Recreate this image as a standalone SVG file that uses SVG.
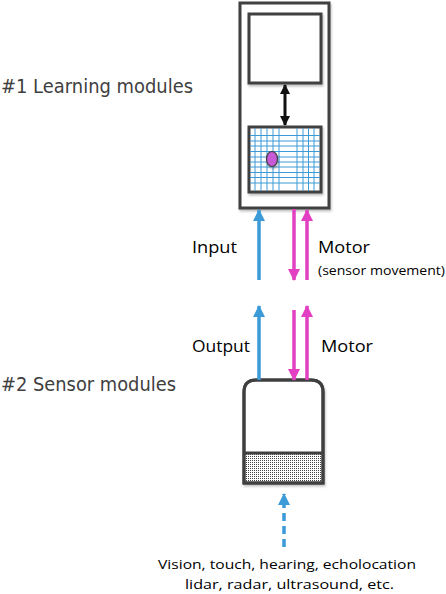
<svg xmlns="http://www.w3.org/2000/svg" width="446" height="594" viewBox="0 0 446 594">
<defs>
<style>
.box{fill:#fff;stroke:#3f3f3f;stroke-width:3}
.blue{stroke:#3d9ad8;stroke-width:3.5;fill:none}
.mag{stroke:#e23fc2;stroke-width:3.5;fill:none}
.grid{stroke:#3d9ad8;stroke-width:1}
.head{font-family:"DejaVu Sans",Verdana,sans-serif;font-size:19px;fill:#404040}
.lab{font-family:"Open Sans",sans-serif;font-size:17px;fill:#000}
.small{font-family:"Open Sans",sans-serif;font-size:13px;fill:#000}
</style>
<marker id="ab" markerUnits="userSpaceOnUse" markerWidth="14" markerHeight="12" refX="11" refY="6" orient="auto"><path d="M0,0 L12,6 L0,12 Z" fill="#3d9ad8"/></marker>
<marker id="am" markerUnits="userSpaceOnUse" markerWidth="14" markerHeight="12" refX="11" refY="6" orient="auto"><path d="M0,0 L12,6 L0,12 Z" fill="#e23fc2"/></marker>
<marker id="ak" markerUnits="userSpaceOnUse" markerWidth="12" markerHeight="10" refX="9" refY="5" orient="auto-start-reverse"><path d="M0,0 L10,5 L0,10 Z" fill="#111"/></marker>
<pattern id="dots" patternUnits="userSpaceOnUse" width="2" height="2"><rect x="0" y="0" width="1" height="1" fill="#444"/></pattern>
<filter id="sh" x="-10%" y="-10%" width="130%" height="130%"><feDropShadow dx="1" dy="2" stdDeviation="1" flood-color="#000" flood-opacity="0.25"/></filter>
</defs>

<g id="learning-module">
<rect class="box" x="240" y="3" width="89" height="205" filter="url(#sh)"/>
<rect class="box" x="249" y="14" width="72" height="69" filter="url(#sh)"/>
<rect class="box" x="249" y="127" width="72" height="65" filter="url(#sh)"/>
<g class="grid">
<line x1="255" y1="128" x2="255" y2="191"/><line x1="261" y1="128" x2="261" y2="191"/><line x1="267" y1="128" x2="267" y2="191"/><line x1="273" y1="128" x2="273" y2="191"/><line x1="279" y1="128" x2="279" y2="191"/>
<line x1="297" y1="128" x2="297" y2="191"/><line x1="303" y1="128" x2="303" y2="191"/><line x1="308.5" y1="128" x2="308.5" y2="191"/><line x1="314" y1="128" x2="314" y2="191"/>
<line x1="250" y1="135.5" x2="320" y2="135.5"/><line x1="250" y1="141" x2="320" y2="141"/><line x1="250" y1="146" x2="320" y2="146"/><line x1="250" y1="151.5" x2="320" y2="151.5"/><line x1="250" y1="157" x2="320" y2="157"/><line x1="250" y1="162" x2="320" y2="162"/><line x1="250" y1="167" x2="320" y2="167"/><line x1="250" y1="172.5" x2="320" y2="172.5"/><line x1="250" y1="177.5" x2="320" y2="177.5"/><line x1="250" y1="183" x2="320" y2="183"/>
</g>
<ellipse cx="272" cy="159" rx="5.5" ry="7.5" fill="#c85ad8" stroke="#3f3f3f" stroke-width="1.2" filter="url(#sh)"/>
</g>

<g id="sensor-module">
<path class="box" d="M244,483 L244,392 Q244,380 256,380 L311,380 Q323,380 323,392 L323,483 Z" filter="url(#sh)"/>
<rect x="245.5" y="454" width="76" height="28" fill="url(#dots)"/>
<line x1="244" y1="453" x2="323" y2="453" stroke="#3f3f3f" stroke-width="3"/>
<path d="M244,483 L244,392 Q244,380 256,380 L311,380 Q323,380 323,392 L323,483 Z" fill="none" stroke="#3f3f3f" stroke-width="3"/>
</g>

<g id="connectors">
<line x1="285" y1="85" x2="285" y2="125" stroke="#111" stroke-width="3" marker-start="url(#ak)" marker-end="url(#ak)"/>
<line class="blue" x1="259" y1="280" x2="259" y2="210" marker-end="url(#ab)"/>
<line class="mag" x1="294" y1="209" x2="294" y2="280" marker-end="url(#am)"/>
<line class="mag" x1="307" y1="280" x2="307" y2="210" marker-end="url(#am)"/>
<line class="blue" x1="259" y1="380" x2="259" y2="306" marker-end="url(#ab)"/>
<line class="mag" x1="294" y1="310" x2="294" y2="380" marker-end="url(#am)"/>
<line class="mag" x1="307" y1="380" x2="307" y2="306" marker-end="url(#am)"/>
<line class="blue" x1="284" y1="547" x2="284" y2="494" stroke-dasharray="8,5" marker-end="url(#ab)"/>
</g>

<g id="labels">
<text class="head" x="1" y="93" textLength="192" lengthAdjust="spacingAndGlyphs">#1 Learning modules</text>
<text class="head" x="1" y="391" textLength="175" lengthAdjust="spacingAndGlyphs">#2 Sensor modules</text>
<text class="lab" x="192" y="253" textLength="45" lengthAdjust="spacingAndGlyphs">Input</text>
<text class="lab" x="318" y="253" textLength="52" lengthAdjust="spacingAndGlyphs">Motor</text>
<text class="small" x="318" y="275" textLength="127" lengthAdjust="spacingAndGlyphs">(sensor movement)</text>
<text class="lab" x="192" y="352" textLength="58" lengthAdjust="spacingAndGlyphs">Output</text>
<text class="lab" x="321" y="352" textLength="52" lengthAdjust="spacingAndGlyphs">Motor</text>
<text class="small" x="158" y="569" font-size="14" textLength="258" lengthAdjust="spacingAndGlyphs">Vision, touch, hearing, echolocation</text>
<text class="small" x="185" y="589" font-size="14" textLength="209" lengthAdjust="spacingAndGlyphs">lidar, radar, ultrasound, etc.</text>
</g>
</svg>
